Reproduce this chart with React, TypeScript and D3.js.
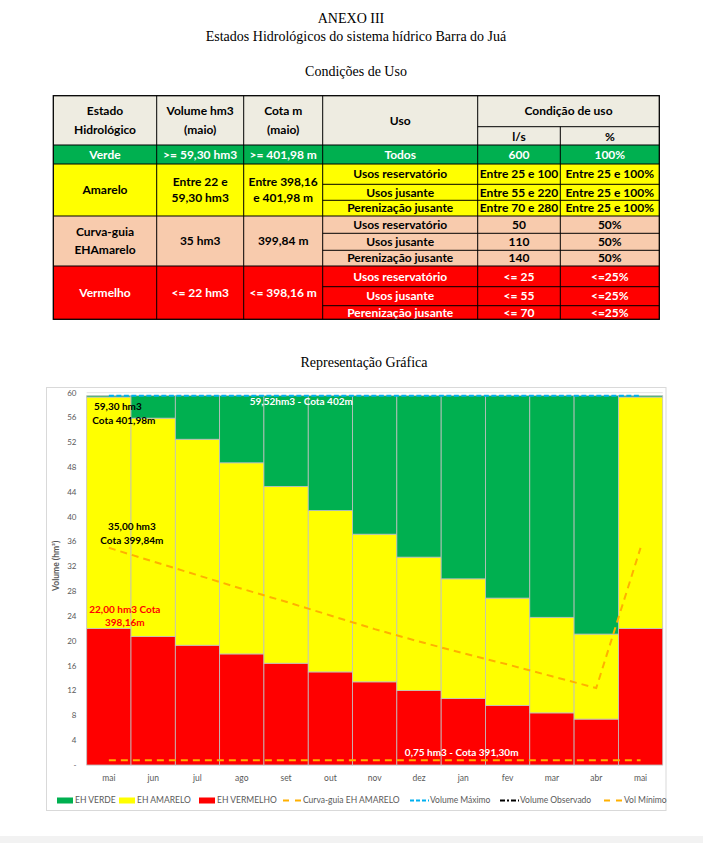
import { useMemo } from "react";
import * as d3 from "d3";

// dados do gráfico (hm³)
const meses = ["mai", "jun", "jul", "ago", "set", "out", "nov", "dez", "jan", "fev", "mar", "abr", "mai"];
const ehVermelho = [22.0, 20.7, 19.3, 17.9, 16.4, 15.0, 13.4, 12.0, 10.7, 9.6, 8.4, 7.4, 22.0];
const ehAmarelo = [37.3, 35.2, 33.2, 30.8, 28.5, 26.0, 23.8, 21.5, 19.3, 17.3, 15.4, 13.7, 37.3];
const ehVerde = [0.22, 3.62, 7.02, 10.82, 14.62, 18.52, 22.32, 26.02, 29.52, 32.62, 35.72, 38.42, 0.22];
const curvaGuia = [35.0, 32.8, 30.6, 28.4, 26.3, 24.1, 21.9, 19.9, 18.0, 16.2, 14.3, 12.4, 35.0];
const volumeMaximo = [59.52, 59.52, 59.52, 59.52, 59.52, 59.52, 59.52, 59.52, 59.52, 59.52, 59.52, 59.52, 59.52];
const volumeObservado: number[] = [];
const volMinimo = [0.75, 0.75, 0.75, 0.75, 0.75, 0.75, 0.75, 0.75, 0.75, 0.75, 0.75, 0.75, 0.75];
const yTicks = [0, 4, 8, 12, 16, 20, 24, 28, 32, 36, 40, 44, 48, 52, 56, 60];

// dados da tabela
const cabecalho = ["Estado\nHidrológico", "Volume hm3\n(maio)", "Cota m\n(maio)", "Uso", "Condição de uso"];
const subCabecalho = ["l/s", "%"];
const estados = ["Verde", "Amarelo", "Curva-guia\nEHAmarelo", "Vermelho"];
const volumes = [">= 59,30 hm3", "Entre 22 e\n59,30 hm3", "35 hm3", "<= 22 hm3"];
const cotas = [">= 401,98 m", "Entre 398,16\ne 401,98 m", "399,84 m", "<= 398,16 m"];
const usos = [
  ["Todos"],
  ["Usos reservatório", "Usos jusante", "Perenização jusante"],
  ["Usos reservatório", "Usos jusante", "Perenização jusante"],
  ["Usos reservatório", "Usos jusante", "Perenização jusante"],
];
const vazoes = [
  ["600"],
  ["Entre 25 e 100", "Entre 55 e 220", "Entre 70 e 280"],
  ["50", "110", "140"],
  ["<= 25", "<= 55", "<= 70"],
];
const percentuais = [
  ["100%"],
  ["Entre 25 e 100%", "Entre 25 e 100%", "Entre 25 e 100%"],
  ["50%", "50%", "50%"],
  ["<=25%", "<=25%", "<=25%"],
];

const FONT = "Lato, 'Open Sans', sans-serif";
const SERIF = "'Liberation Serif', 'Times New Roman', serif";

// geometria da tabela
const colX = [53.3, 156.7, 243.7, 322.7, 477.7, 560.3, 659.3];
const tTop = 95.7;
const tSub = 126.7;
const tHead = 145;
const rowLines = [
  [145, 164],
  [164, 184.3, 200.3, 216],
  [216, 233.3, 250.3, 266],
  [266, 286.7, 305.7, 319.3],
];
const rowFill = ["#00b050", "#ffff00", "#f8cbad", "#ff0000"];
const rowText = ["#ffffff", "#000000", "#000000", "#ffffff"];

const Lines = ({ text, x, yc, size, fill, lh }: { text: string; x: number; yc: number; size: number; fill: string; lh: number }) => {
  const parts = text.split("\n");
  const y0 = yc - ((parts.length - 1) * lh) / 2;
  return (
    <text x={x} textAnchor="middle" fontFamily={FONT} fontWeight={700} fontSize={size} fill={fill}>
      {parts.map((p, i) => (
        <tspan key={i} x={x} y={y0 + i * lh} dy="0.35em">
          {p}
        </tspan>
      ))}
    </text>
  );
};

const Tabela = () => {
  const fs = 12;
  const cx = (a: number, b: number) => (colX[a] + colX[b]) / 2;
  return (
    <g>
      <rect x={colX[0]} y={tTop} width={colX[6] - colX[0]} height={tHead - tTop} fill="#eeece1" />
      {rowLines.map((ls, r) => (
        <rect key={r} x={colX[0]} y={ls[0]} width={colX[6] - colX[0]} height={ls[ls.length - 1] - ls[0]} fill={rowFill[r]} />
      ))}
      {/* cabeçalho */}
      <Lines text={cabecalho[0]} x={cx(0, 1)} yc={120.5} size={fs} fill="#000" lh={18.5} />
      <Lines text={cabecalho[1]} x={cx(1, 2)} yc={120.5} size={fs} fill="#000" lh={18.5} />
      <Lines text={cabecalho[2]} x={cx(2, 3)} yc={120.5} size={fs} fill="#000" lh={18.5} />
      <Lines text={cabecalho[3]} x={cx(3, 4)} yc={120.5} size={fs} fill="#000" lh={18.5} />
      <Lines text={cabecalho[4]} x={cx(4, 6)} yc={111} size={fs} fill="#000" lh={18.5} />
      <Lines text={subCabecalho[0]} x={cx(4, 5)} yc={136.5} size={fs} fill="#000" lh={18.5} />
      <Lines text={subCabecalho[1]} x={cx(5, 6)} yc={136.5} size={fs} fill="#000" lh={18.5} />
      {rowLines.map((ls, r) => {
        const top = ls[0];
        const bot = ls[ls.length - 1];
        const mid = (top + bot) / 2;
        const col = rowText[r];
        return (
          <g key={r}>
            <Lines text={estados[r]} x={cx(0, 1)} yc={mid} size={fs} fill={col} lh={18} />
            <Lines text={volumes[r]} x={cx(1, 2)} yc={mid} size={fs} fill={col} lh={16.5} />
            <Lines text={cotas[r]} x={cx(2, 3)} yc={mid} size={fs} fill={col} lh={16.5} />
            {usos[r].map((u, k) => {
              const m = (ls[k] + ls[k + 1]) / 2;
              return (
                <g key={k}>
                  <Lines text={u} x={cx(3, 4)} yc={m} size={fs} fill={col} lh={16} />
                  <Lines text={vazoes[r][k]} x={cx(4, 5)} yc={m} size={fs} fill={col} lh={16} />
                  <Lines text={percentuais[r][k]} x={cx(5, 6)} yc={m} size={fs} fill={col} lh={16} />
                </g>
              );
            })}
          </g>
        );
      })}
      {/* linhas da grade */}
      <g stroke="#000" strokeWidth={1} fill="none">
        <rect x={colX[0]} y={tTop} width={colX[6] - colX[0]} height={319.3 - tTop} strokeWidth={1.3} />
        <line x1={colX[4]} x2={colX[6]} y1={tSub} y2={tSub} />
        <line x1={colX[4]} x2={colX[4]} y1={tTop} y2={319.3} />
        <line x1={colX[5]} x2={colX[5]} y1={tSub} y2={319.3} />
        {[1, 2, 3].map((c) => (
          <line key={c} x1={colX[c]} x2={colX[c]} y1={tTop} y2={319.3} />
        ))}
        {rowLines.map((ls, r) => (
          <g key={r}>
            <line x1={colX[0]} x2={colX[6]} y1={ls[0]} y2={ls[0]} />
            {ls.slice(1, -1).map((yy, k) => (
              <line key={k} x1={colX[3]} x2={colX[6]} y1={yy} y2={yy} />
            ))}
          </g>
        ))}
      </g>
    </g>
  );
};

const Grafico = () => {
  const plot = { left: 86.7, right: 662.7, top: 392.7, bottom: 765 };
  const x = useMemo(
    () => d3.scaleBand<number>().domain(d3.range(meses.length)).range([plot.left, plot.right]).padding(0),
    []
  );
  const y = useMemo(() => d3.scaleLinear().domain([0, 60]).range([plot.bottom, plot.top]), []);
  const bw = x.bandwidth();

  const linhas = meses.map((_, i) => ({ vermelho: ehVermelho[i], amarelo: ehAmarelo[i], verde: ehVerde[i] }));
  const stack = d3.stack<{ vermelho: number; amarelo: number; verde: number }>().keys(["vermelho", "amarelo", "verde"]);
  const series = stack(linhas);
  const cores: Record<string, string> = { vermelho: "#ff0000", amarelo: "#ffff00", verde: "#00b050" };

  const line = d3
    .line<number>()
    .x((_, i) => x(i)! + bw / 2)
    .y((v) => y(v));

  const legend = [
    { type: "rect", color: "#00b050", label: "EH VERDE", x: 57 },
    { type: "rect", color: "#ffff00", label: "EH AMARELO", x: 119 },
    { type: "rect", color: "#ff0000", label: "EH VERMELHO", x: 199 },
    { type: "dash", color: "#ffb000", label: "Curva-guia EH AMARELO", x: 283, dash: "6 6" },
    { type: "dash", color: "#00b0f0", label: "Volume Máximo", x: 410, dash: "4 2" },
    { type: "dash", color: "#000000", label: "Volume Observado", x: 500, dash: "5 2 2 2" },
    { type: "dash", color: "#ffb000", label: "Vol Mínimo", x: 604, dash: "6 6" },
  ];

  return (
    <g>
      <rect x={46.5} y={387.5} width={619.5} height={423} fill="#fff" stroke="#d9d9d9" strokeWidth={1} />
      {/* grade */}
      {yTicks.map((t) => (
        <line key={t} x1={plot.left} x2={plot.right} y1={y(t)} y2={y(t)} stroke="#d9d9d9" strokeWidth={0.8} />
      ))}
      {/* barras empilhadas */}
      {series.map((s) => (
        <g key={s.key} fill={cores[s.key]}>
          {s.map((d, i) => (
            <rect
              key={i}
              x={x(i)}
              y={y(d[1])}
              width={bw}
              height={y(d[0]) - y(d[1])}
              stroke="#c0c0c0"
              strokeWidth={0.8}
            />
          ))}
        </g>
      ))}
      {/* linhas */}
      <path d={line(curvaGuia)!} fill="none" stroke="#ffb000" strokeWidth={2} strokeDasharray="7 5" />
      <path d={line(volumeMaximo)!} fill="none" stroke="#00b0f0" strokeWidth={2} strokeDasharray="5 2.5" />
      {volumeObservado.length > 0 && (
        <path d={line(volumeObservado)!} fill="none" stroke="#000" strokeWidth={2} strokeDasharray="5 2 2 2" />
      )}
      <path d={line(volMinimo)!} fill="none" stroke="#ffb000" strokeWidth={2} strokeDasharray="7 5" />
      {/* eixo y */}
      {yTicks.map((t) => (
        <text key={t} x={76.5} y={y(t)} dy="0.35em" textAnchor="end" fontFamily={FONT} fontSize={8} fill="#595959">
          {t === 0 ? "-" : t}
        </text>
      ))}
      <text
        transform={`translate(56,${(plot.top + plot.bottom) / 2 - 13}) rotate(-90)`}
        textAnchor="middle"
        dy="0.35em"
        fontFamily={FONT}
        fontWeight={700}
        fontSize={8.5}
        fill="#595959"
      >
        Volume (hm³)
      </text>
      {/* eixo x */}
      {meses.map((m, i) => (
        <text key={i} x={x(i)! + bw / 2} y={778.5} dy="0.35em" textAnchor="middle" fontFamily={FONT} fontSize={8.5} fill="#595959">
          {m}
        </text>
      ))}
      {/* rótulos */}
      <g fontFamily={FONT} fontWeight={700} fontSize={10}>
        <text x={x(0)! + bw / 2 + 9} y={406.7} dy="0.35em" textAnchor="middle" fill="#000">59,30 hm3</text>
        <text x={x(0)! + bw / 2 + 15} y={420.7} dy="0.35em" textAnchor="middle" fill="#000">Cota  401,98m</text>
        <text x={x(3)! + bw / 2 + 8} y={401.5} dy="0.35em" textAnchor="start" fill="#fff">59,52hm3 - Cota 402m</text>
        <text x={x(0)! + bw / 2 + 23} y={526.7} dy="0.35em" textAnchor="middle" fill="#000">35,00 hm3</text>
        <text x={x(0)! + bw / 2 + 23} y={540.3} dy="0.35em" textAnchor="middle" fill="#000">Cota 399,84m</text>
        <text x={x(0)! + bw / 2 + 16} y={609} dy="0.35em" textAnchor="middle" fill="#ff0000">22,00 hm3 Cota</text>
        <text x={x(0)! + bw / 2 + 16} y={622.5} dy="0.35em" textAnchor="middle" fill="#ff0000">398,16m</text>
        <text x={x(7)! + 8} y={752.5} dy="0.35em" textAnchor="start" fill="#fff">0,75 hm3 - Cota 391,30m</text>
      </g>
      {/* legenda */}
      {legend.map((l) => (
        <g key={l.label} transform={`translate(${l.x},800.5)`}>
          {l.type === "rect" ? (
            <rect x={0} y={-3} width={16} height={6} fill={l.color} />
          ) : (
            <line x1={0} x2={19} y1={0} y2={0} stroke={l.color} strokeWidth={2} strokeDasharray={l.dash} />
          )}
          <text x={l.type === "rect" ? 18 : 20} y={0} dy="0.35em" fontFamily={FONT} fontSize={8.5} fill="#595959">
            {l.label}
          </text>
        </g>
      ))}
    </g>
  );
};

export default function App() {
  return (
    <svg
      width={703}
      height={843}
      viewBox="0 0 703 843"
      style={{ position: "absolute", left: 0, top: 0, background: "#fff" }}
    >
      <rect x={0} y={0} width={703} height={843} fill="#fff" />
      <g fontFamily={SERIF} fontSize={14} fill="#000" textAnchor="middle">
        <text x={351} y={23}>ANEXO III</text>
        <text x={356} y={41}>Estados Hidrológicos do sistema hídrico Barra do Juá</text>
        <text x={356} y={76}>Condições de Uso</text>
        <text x={364} y={367}>Representação Gráfica</text>
      </g>
      <Tabela />
      <Grafico />
      <rect x={0} y={836} width={703} height={7} fill="#f2f2f2" />
    </svg>
  );
}
